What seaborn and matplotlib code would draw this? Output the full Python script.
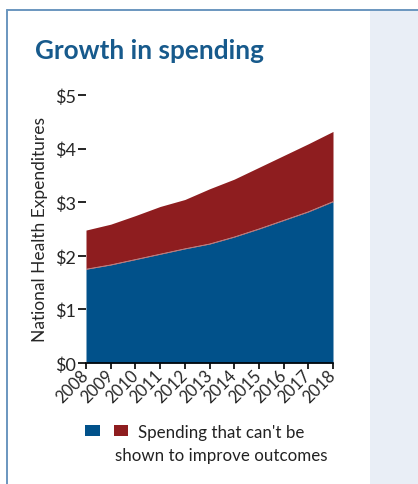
import matplotlib
matplotlib.use("Agg")
import matplotlib.pyplot as plt
from matplotlib.patches import Rectangle
from matplotlib.lines import Line2D
import seaborn as sns
import pandas as pd

# === Data (trillions of dollars) ===
years = [2008, 2009, 2010, 2011, 2012, 2013, 2014, 2015, 2016, 2017, 2018]
effective = [1.75, 1.83, 1.93, 2.03, 2.13, 2.22, 2.35, 2.50, 2.66, 2.82, 3.01]
total = [2.48, 2.59, 2.75, 2.92, 3.05, 3.25, 3.43, 3.65, 3.87, 4.09, 4.32]
y_ticks = [0, 1, 2, 3, 4, 5]
y_labels = ["$0", "$1", "$2", "$3", "$4", "$5"]
legend_label = "Spending that can't be\nshown to improve outcomes"

df = pd.DataFrame({"year": years, "effective": effective, "total": total})

BLUE = "#01518a"
RED = "#8e1d1f"
TITLE = "#175a8c"
FRAME = "#6a96bf"
PANEL = "#e9eef6"

sns.set_style("white")
plt.rcParams["font.family"] = ["Lato", "DejaVu Sans"]

fig = plt.figure(figsize=(4.18, 4.85), dpi=100)

# === Card background / frame ===
fig.add_artist(Rectangle((370 / 418, 0), 48 / 418, 1 - 12 / 485,
                         transform=fig.transFigure, color=PANEL, lw=0, zorder=0))
fig.add_artist(Line2D([7 / 418, 7 / 418], [0, 1 - 10.5 / 485],
                      transform=fig.transFigure, color=FRAME, lw=1.4))
fig.add_artist(Line2D([7 / 418, 1], [1 - 10.5 / 485, 1 - 10.5 / 485],
                      transform=fig.transFigure, color=FRAME, lw=1.4))

fig.text(35 / 418, 1 - 59 / 485, "Growth in spending", color=TITLE,
         fontsize=18.8, fontweight="bold", ha="left", va="baseline")

# === Stacked area ===
ax = fig.add_axes([86 / 418, 1 - 364 / 485, 247 / 418, 268 / 485])
ax.fill_between(df["year"], 0, df["effective"], color=BLUE, lw=0)
ax.fill_between(df["year"], df["effective"], df["total"], color=RED, lw=0)
sns.lineplot(data=df, x="year", y="effective", ax=ax, color="#c9a3a6", lw=0.5)

ax.set_xlim(years[0], years[-1])
ax.set_ylim(0, 5)
ax.set_yticks(y_ticks)
ax.set_yticklabels(y_labels, fontsize=13)
ax.set_xticks(years)
ax.set_xticklabels([str(y) for y in years], fontsize=12, rotation=45,
                   ha="right", va="center", rotation_mode="anchor")
ax.set_xlabel("")
ax.set_ylabel("National Health Expenditures", fontsize=12.5, labelpad=5)

for s in ["top", "right", "left"]:
    ax.spines[s].set_visible(False)
ax.spines["bottom"].set_color("black")
ax.spines["bottom"].set_linewidth(1.2)
ax.tick_params(axis="y", left=True, length=6, width=1.2, pad=1, color="black")
ax.tick_params(axis="x", bottom=True, length=4, width=1.2, pad=3, color="black")

# === Legend ===
fig.add_artist(Rectangle((85 / 418, 1 - 437 / 485), 15 / 418, 11 / 485,
                         transform=fig.transFigure, color=BLUE, lw=0))
fig.add_artist(Rectangle((114 / 418, 1 - 437 / 485), 14 / 418, 11 / 485,
                         transform=fig.transFigure, color=RED, lw=0))
fig.text(221 / 418, 1 - 425 / 485, legend_label, fontsize=12.2,
         ha="center", va="top", multialignment="center", linespacing=1.55,
         color="#222222")

fig.savefig("out.png", dpi=100)
